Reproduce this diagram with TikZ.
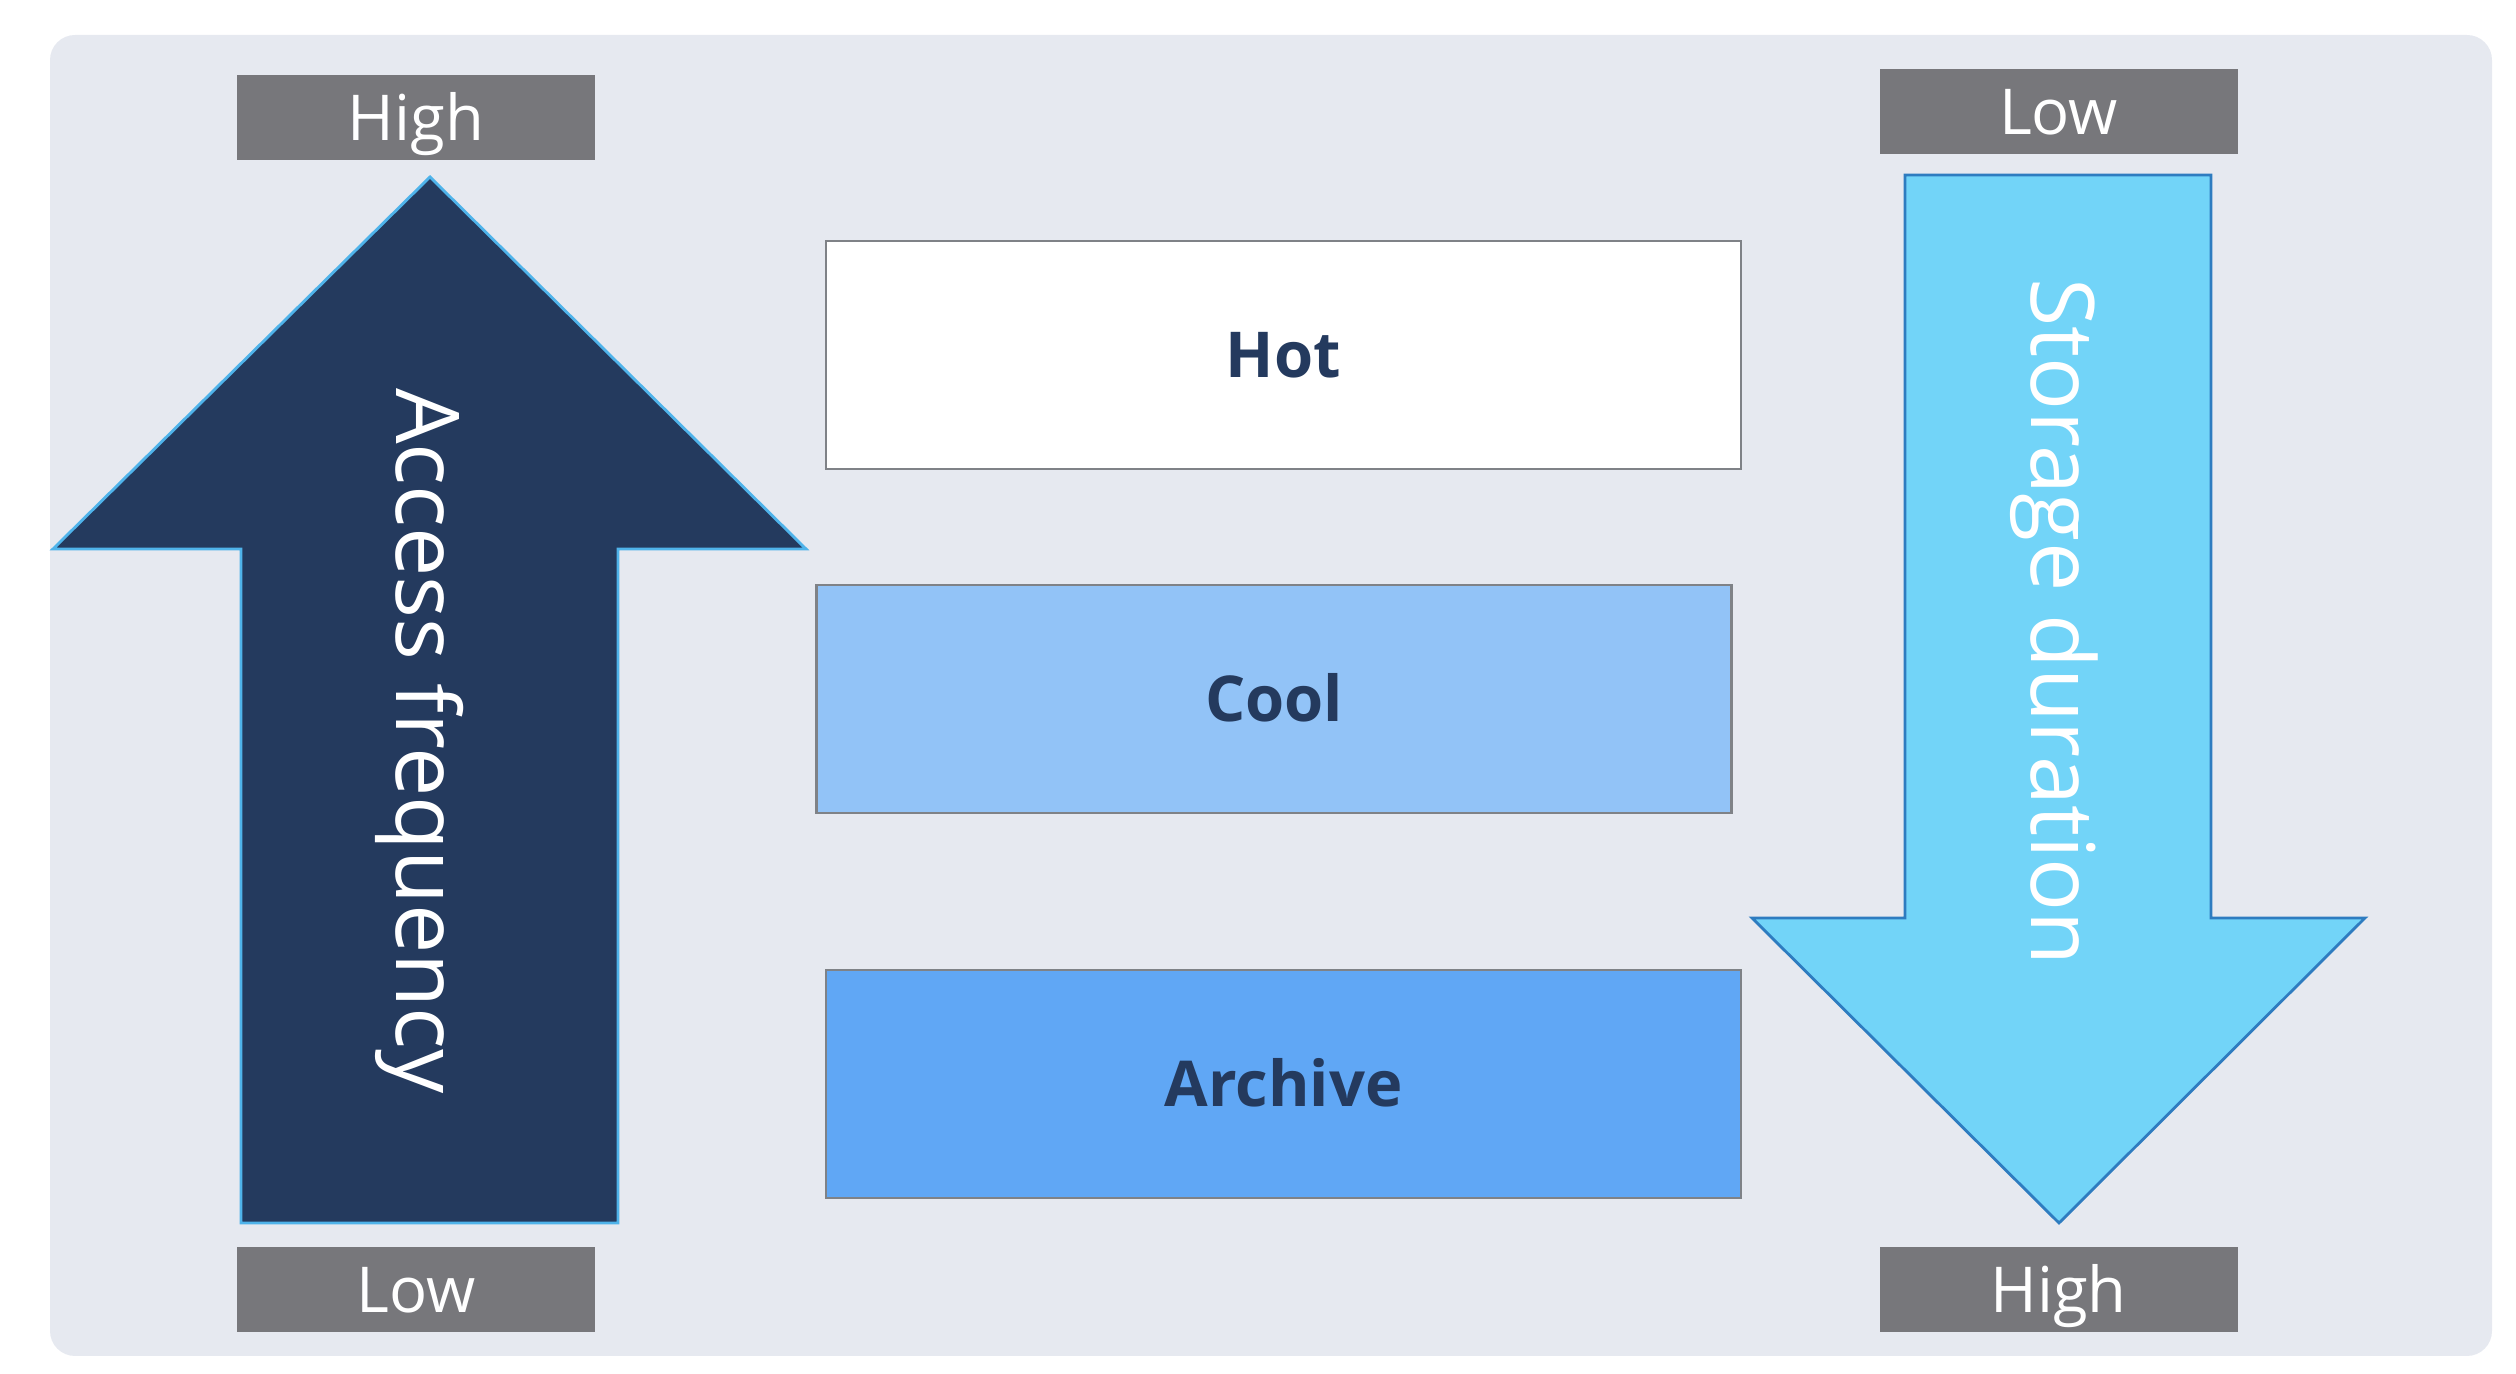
\documentclass[tikz,border=0pt]{standalone}
\usepackage{fontspec}
\setmainfont{Open Sans}
\usetikzlibrary{positioning}
\usepackage{xcolor}
\definecolor{panelbg}{HTML}{E6E9F0}
\definecolor{tag}{HTML}{77777B}
\definecolor{navy}{HTML}{243A5E}
\definecolor{navyedge}{HTML}{4FB3EA}
\definecolor{sky}{HTML}{72D4F8}
\definecolor{skyedge}{HTML}{2E7CC0}
\definecolor{coolfill}{HTML}{92C3F7}
\definecolor{archfill}{HTML}{60A7F5}
\definecolor{boxedge}{HTML}{7F8287}

\tikzset{
  tagbox/.style={fill=tag,text=white,minimum width=3.58cm,minimum height=0.85cm,inner sep=0pt,text height=12.9pt,text depth=0pt,font=\fontsize{18}{20}\selectfont},
  tierbox/.style={draw=boxedge,line width=0.8pt,minimum width=9.15cm,minimum height=2.28cm,inner sep=0pt,text height=12.9pt,text depth=0pt,text=navy,font=\fontsize{18}{20}\selectfont\bfseries},
  arrowtext/.style={text=white,rotate=-90,font=\fontsize{25}{28}\selectfont}
}

\begin{document}
\begin{tikzpicture}
  \useasboundingbox (0,0) rectangle (25.16,13.74);
  \fill[panelbg,rounded corners=0.25cm] (0.50,0.18) rectangle (24.92,13.39);

  % access frequency arrow, pointing up
  \filldraw[fill=navy,draw=navyedge,line width=0.8pt]
    (4.30,11.97) -- (8.06,8.25) -- (6.18,8.25) -- (6.18,1.51)
    -- (2.41,1.51) -- (2.41,8.25) -- (0.53,8.25) -- cycle;
  \node[arrowtext] (access) at (4.20,6.33) {Access frequency};

  % storage duration arrow, pointing down
  \filldraw[fill=sky,draw=skyedge,line width=0.8pt]
    (19.05,11.99) -- (22.11,11.99) -- (22.11,4.56) -- (23.65,4.56)
    -- (20.59,1.51) -- (17.52,4.56) -- (19.05,4.56) -- cycle;
  \node[arrowtext] (storage) at (20.54,7.52) {Storage duration};

  \node[tagbox] (afhigh) at (4.16,12.565) {High};
  \node[tagbox] (aflow) at (4.16,0.845) {Low};
  \node[tagbox] (sdlow) at (20.585,12.625) {Low};
  \node[tagbox] (sdhigh) at (20.585,0.845) {High};

  \node[tierbox,fill=white] (hot) at (12.835,10.19) {Hot};
  \node[tierbox,fill=coolfill] (cool) at (12.74,6.75) {Cool};
  \node[tierbox,fill=archfill] (archive) at (12.835,2.90) {Archive};
\end{tikzpicture}
\end{document}
